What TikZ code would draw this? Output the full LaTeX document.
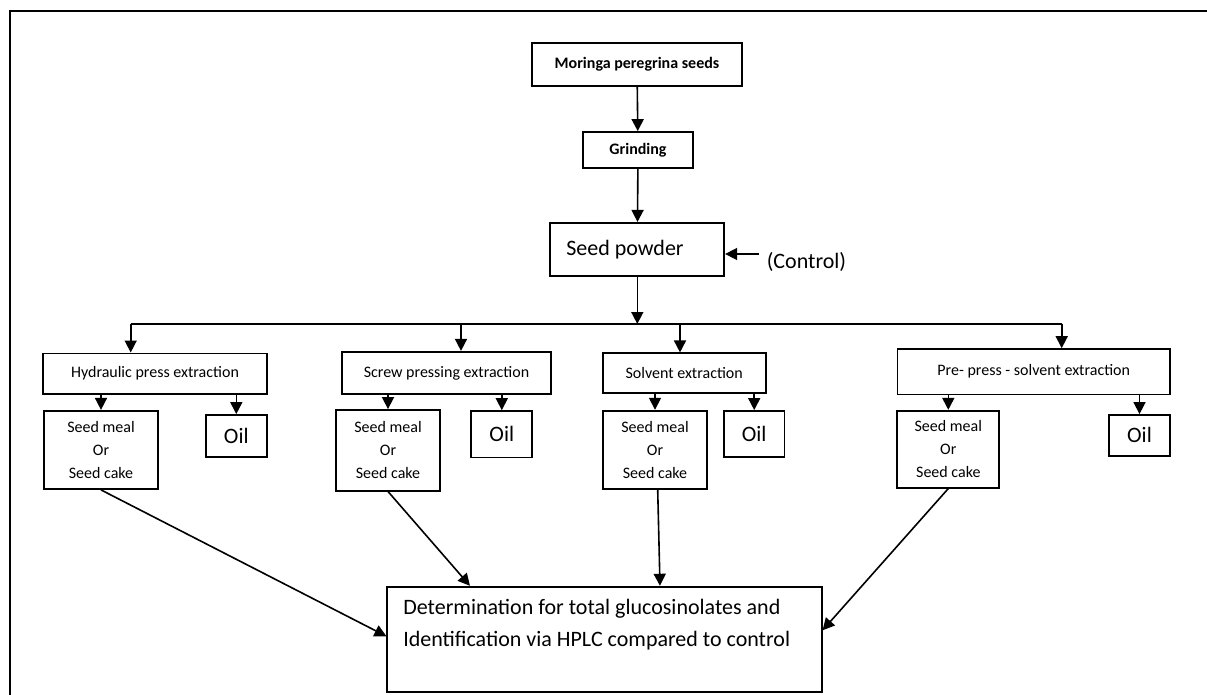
\documentclass[tikz,border=0pt]{standalone}
\usepackage{fontspec}
\setmainfont{Carlito}
\usetikzlibrary{arrows.meta}

\tikzset{
  box/.style={draw,line width=1.7pt,inner sep=0pt,align=center,font=\fontsize{16}{19}\selectfont},
  head/.style={box,font=\fontsize{16}{19}\selectfont\bfseries},
  meal/.style={box,font=\fontsize{16}{23}\selectfont},
  oil/.style={box,font=\fontsize{22}{26}\selectfont}
}

\begin{document}
\begin{tikzpicture}[x=1pt,y=-1pt,line width=1.6pt,>={Triangle[length=12pt,width=12pt]}]
\fill[white] (0,0) rectangle (1207,695);
\useasboundingbox (0,0) rectangle (1207,695);
\draw[line width=2pt] (10,695) -- (10,11.5) -- (1207,11.5);

\node (seeds) [head,minimum width=210,minimum height=43] at (637,64.5) {Moringa peregrina seeds};
\node (grind) [head,minimum width=110,minimum height=36] at (638,150) {Grinding};
\node (powder) [box,font=\fontsize{22}{26}\selectfont,minimum width=174,minimum height=53,text width=142,inner xsep=16,align=flush left] at (637.3,249.3) {Seed powder};
\node (ctrl) [anchor=west,inner sep=0pt,font=\fontsize{22}{26}\selectfont] at (766,262) {(Control)};
\coordinate (c0) at (759,254);

\node (hyd) [box,minimum width=223.4,minimum height=40.7] at (155,373.7) {Hydraulic press extraction};
\node (screw) [box,minimum width=208.4,minimum height=42.3] at (446.5,372.9) {Screw pressing extraction};
\node (solv) [box,minimum width=163,minimum height=40] at (684.2,373.3) {Solvent extraction};
\node (pre) [box,minimum width=272.7,minimum height=45.3] at (1033.7,371.7) {Pre- press - solvent extraction};

\node (meal1) [meal,minimum width=114,minimum height=78.3] at (101,449.9) {Seed meal\\Or\\Seed cake};
\node (meal2) [meal,minimum width=104,minimum height=80.7] at (388,450.3) {Seed meal\\Or\\Seed cake};
\node (meal3) [meal,minimum width=104.6,minimum height=78.3] at (655,449.8) {Seed meal\\Or\\Seed cake};
\node (meal4) [meal,minimum width=102,minimum height=77] at (948.3,449.2) {Seed meal\\Or\\Seed cake};

\node (oil1) [oil,minimum width=60.7,minimum height=41.7] at (236.3,435.8) {Oil};
\node (oil2) [oil,minimum width=61,minimum height=46.3] at (501.8,434.2) {Oil};
\node (oil3) [oil,minimum width=60.3,minimum height=45.7] at (754.2,433.8) {Oil};
\node (oil4) [oil,minimum width=61,minimum height=40.7] at (1139.5,435.3) {Oil};

\node (res) [box,font=\fontsize{22}{32}\selectfont,minimum width=434.4,minimum height=105.3,text width=402.4,inner xsep=16,align=flush left] at (604.5,639.3) {Determination for total glucosinolates and\\Identification via HPLC compared to control\\\mbox{}};

\coordinate (b1) at (130.7,324);
\coordinate (b2) at (461,324);
\coordinate (b3) at (680,324);
\coordinate (b4) at (1061.7,324);

\draw [->] (seeds) -- (grind);
\draw [->] (grind) -- (powder);
\draw [->] (c0) -- (c0 -| powder.east);
\draw [->] (powder.south) -- (powder.south |- b1);
\draw (b1) -- (b4);
\draw [->] (b1) -- (b1 |- hyd.north);
\draw [->] (b2) -- (b2 |- screw.north);
\draw [->] (b3) -- (b3 |- solv.north);
\draw [->] (b4) -- (b4 |- pre.north);

\draw [->] (hyd.south -| meal1.north) -- (meal1.north);
\draw [->] (hyd.south -| oil1.north) -- (oil1.north);
\draw [->] (screw.south -| meal2.north) -- (meal2.north);
\draw [->] (screw.south -| oil2.north) -- (oil2.north);
\draw [->] (solv.south -| meal3.north) -- (meal3.north);
\draw [->] (solv.south -| oil3.north) -- (oil3.north);
\draw [->] (pre.south -| meal4.north) -- (meal4.north);
\draw [->] (pre.south -| oil4.north) -- (oil4.north);

\draw [->] (meal1.south) -- ([yshift=3pt]res.west);
\draw [->] (meal2.south) -- ([xshift=-134.5pt]res.north);
\draw [->] ([xshift=2.7pt]meal3.south) -- ([xshift=55.5pt]res.north);
\draw [->] (meal4.south) -- ([yshift=9pt]res.east);
\end{tikzpicture}
\end{document}
